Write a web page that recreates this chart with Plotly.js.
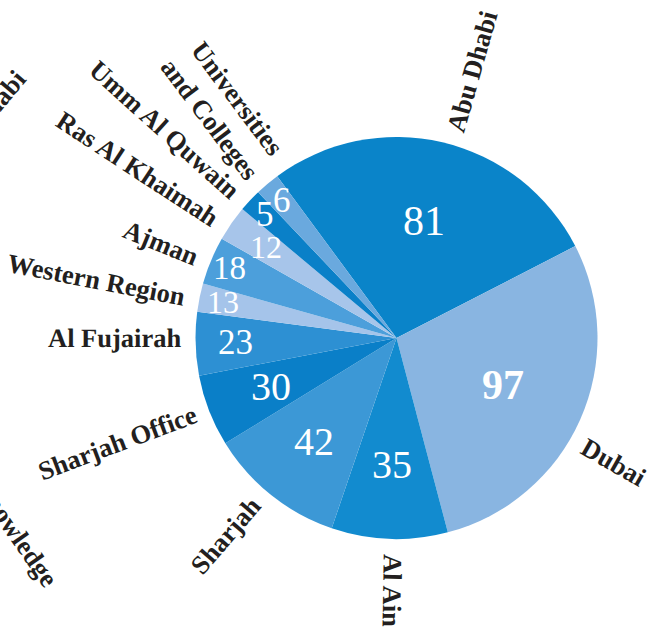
<!DOCTYPE html>
<html>
<head>
<meta charset="utf-8">
<script src="https://cdn.plot.ly/plotly-3.0.1.min.js"></script>
<style>html,body{margin:0;padding:0;background:#fff;}#chart{width:662px;height:631px;}</style>
</head>
<body>
<div id="chart"></div>
<script>
// ---- data ----
const regions = ['Abu Dhabi', 'Dubai', 'Al Ain', 'Sharjah', 'Sharjah Office', 'Al Fujairah',
  'Western Region', 'Ajman', 'Ras Al Khaimah', 'Umm Al Quwain', 'Universities<br>and Colleges'];
const counts = [81, 97, 35, 42, 30, 23, 13, 18, 12, 5, 6];
// slice sizes as drawn in the reference (degrees of arc; the drawing is not proportional to counts)
const sliceDegrees = [99.2, 102.4, 33.6, 39.6, 20.8, 18.3, 8.2, 13.9, 10.3, 6.6, 7.1];
// partially visible labels belonging to a neighbouring chart
const neighbourLabels = ['Abu Dhabi', 'Knowledge'];

// ---- style ----
const colors = ['#0a84c9', '#89b5e1', '#128bcf', '#3c98d6', '#0a7fc8', '#2d90d3',
  '#a5c4ea', '#4c9fdb', '#a7c5ea', '#0a80c8', '#6aa9de'];
const numberSize = [42, 42, 40, 40, 40, 35, 32, 33, 32, 35, 35];
const numberBold = [false, true, false, false, false, false, false, false, false, false, false];
const numberRadius = [0.6, 0.58, 0.63, 0.66, 0.67, 0.8, 0.88, 0.9, 0.79, 0.9, 0.89];
const labelAngleShift = [2.7, 5.8, -1, 2.2, 0.6, 1.7, -0.6, -0.6, -1.6, -1.2, 3];
const startAngle = -36.4;

const W = 662, H = 631;
const CX = 396.5, CY = 338, R = 201;
const domX = [(CX - R) / W, (CX + R) / W];
const domY = [(H - CY - R) / H, (H - CY + R) / H];

const serif = '"Liberation Serif", "Times New Roman", serif';
const labelFontSize = 26.5;

// midpoints of slices
const total = sliceDegrees.reduce((a, b) => a + b, 0);
let acc = 0;
const mids = sliceDegrees.map(v => {
  const m = startAngle + (acc + v / 2) / total * 360;
  acc += v;
  return m;
});

const pie = {
  type: 'pie',
  values: sliceDegrees,
  labels: regions,
  sort: false,
  direction: 'clockwise',
  rotation: startAngle,
  textinfo: 'none',
  hoverinfo: 'none',
  marker: { colors: colors, line: { width: 0 } },
  domain: { x: domX, y: domY },
  showlegend: false
};

// measure text width for label placement
const cvs = document.createElement('canvas');
const ctx = cvs.getContext('2d');
ctx.font = 'bold ' + labelFontSize + 'px "Liberation Serif"';
function textWidth(s) {
  return Math.max.apply(null, s.split('<br>').map(t => ctx.measureText(t).width));
}
function polarToPaper(thetaDeg, rPx) {
  const rad = thetaDeg * Math.PI / 180;
  return { x: (CX + rPx * Math.sin(rad)) / W, y: 1 - (CY - rPx * Math.cos(rad)) / H };
}

const annotations = [];

// values inside the slices
counts.forEach((c, i) => {
  const p = polarToPaper(mids[i], numberRadius[i] * R);
  annotations.push({
    text: numberBold[i] ? '<b>' + c + '</b>' : String(c),
    x: p.x, y: p.y, xref: 'paper', yref: 'paper',
    xanchor: 'center', yanchor: 'middle', showarrow: false,
    font: { family: serif, size: numberSize[i], color: '#ffffff' }
  });
});

// radial category labels
regions.forEach((name, i) => {
  let th = mids[i] + labelAngleShift[i];
  th = ((th % 360) + 360) % 360;
  const w = textWidth(name);
  const p = polarToPaper(th, R + 14 + w / 2);
  const ang = th <= 190 ? th - 90 : th - 270;
  annotations.push({
    text: '<b>' + name + '</b>',
    x: p.x, y: p.y, xref: 'paper', yref: 'paper',
    xanchor: 'center', yanchor: 'middle', showarrow: false,
    textangle: ang, align: 'center',
    font: { family: serif, size: labelFontSize, color: '#231f20' }
  });
});

// neighbouring chart labels, cut by the page edge
(function () {
  const w0 = textWidth(neighbourLabels[0]);
  const a0 = -50 * Math.PI / 180;
  const ex0 = 20, ey0 = 74;
  annotations.push({
    text: '<b>' + neighbourLabels[0] + '</b>',
    x: (ex0 - Math.cos(a0) * w0 / 2) / W, y: 1 - (ey0 - Math.sin(a0) * w0 / 2) / H,
    xref: 'paper', yref: 'paper', xanchor: 'center', yanchor: 'middle', showarrow: false,
    textangle: -50, font: { family: serif, size: labelFontSize, color: '#231f20' }
  });
  const w1 = textWidth(neighbourLabels[1]);
  const a1 = 55 * Math.PI / 180;
  const ex1 = 52, ey1 = 584;
  annotations.push({
    text: '<b>' + neighbourLabels[1] + '</b>',
    x: (ex1 - Math.cos(a1) * w1 / 2) / W, y: 1 - (ey1 - Math.sin(a1) * w1 / 2) / H,
    xref: 'paper', yref: 'paper', xanchor: 'center', yanchor: 'middle', showarrow: false,
    textangle: 55, font: { family: serif, size: labelFontSize, color: '#231f20' }
  });
})();

const layout = {
  width: W, height: H,
  margin: { l: 0, r: 0, t: 0, b: 0, pad: 0 },
  paper_bgcolor: '#ffffff',
  plot_bgcolor: 'rgba(0,0,0,0)',
  showlegend: false,
  annotations: annotations
};

Plotly.newPlot('chart', [pie], layout, { displayModeBar: false, staticPlot: true });
</script>
</body>
</html>
